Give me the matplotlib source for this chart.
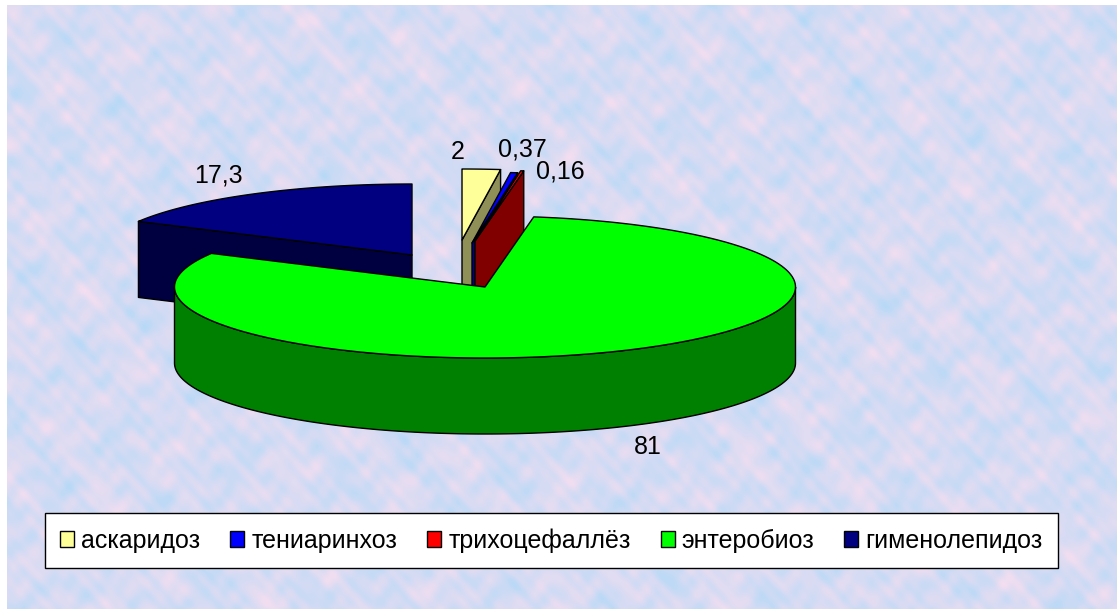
import matplotlib
matplotlib.use('Agg')
import matplotlib.pyplot as plt
import numpy as np
from matplotlib.patches import Patch

plt.rcParams['font.family'] = ['Liberation Sans', 'DejaVu Sans']

names = ['аскаридоз', 'тениаринхоз', 'трихоцефаллёз', 'энтеробиоз', 'гименолепидоз']
values = [2, 0.37, 0.16, 81, 17.3]
value_labels = ['2', '0,37', '0,16', '81', '17,3']
top_colors = ['#FFFF99', '#0000FF', '#FF0000', '#00FF00', '#000080']
side_colors = ['#8F8F58', '#000080', '#800000', '#008000', '#000040']

W, H = 1117, 612
CX, CY = 485, 287
RX, RY = 310.5, 71
DEPTH = 76
# how far each slice is pulled out of the pie, in pixels
offsets = [(-23, -47), (-13, -44), (-10, -46), (0, 0), (-73, -32)]
label_pos = [(458, 152), (522, 150), (560, 171), (648, 447), (218, 175)]


def arc(x0, y0, a, b, n=200):
    t = np.radians(np.linspace(a, b, n))
    return x0 + RX * np.cos(t), y0 - RY * np.sin(t)


def draw_slice(ax, x0, y0, a, b, top, side):
    # a > b, going clockwise
    xs, ys = arc(x0, y0, a, b)
    kw = dict(edgecolor='black', linewidth=1.0, joinstyle='round')
    # cut faces, only the ones turned to the viewer
    faces = []
    if np.cos(np.radians(a)) < -1e-6:
        faces.append(a)
    if np.cos(np.radians(b)) > 1e-6:
        faces.append(b)
    for ang in faces:
        ex, ey = arc(x0, y0, ang, ang, 1)
        ax.fill([x0, ex[0], ex[0], x0], [y0, ey[0], ey[0] + DEPTH, y0 + DEPTH], facecolor=side, **kw)
    # outer rim, front half only
    lo, hi = min(a, b), max(a, b)
    for k in (-1, 0):
        s, e = max(lo, 180 + 360 * k), min(hi, 360 + 360 * k)
        if s < e:
            rx, ry = arc(x0, y0, s, e)
            ax.fill(np.r_[rx, rx[::-1]], np.r_[ry, ry[::-1] + DEPTH], facecolor=side, **kw)
    ax.fill(np.r_[x0, xs], np.r_[y0, ys], facecolor=top, **kw)


fig = plt.figure(figsize=(W / 100, H / 100), dpi=100)
ax = fig.add_axes([0, 0, 1, 1])
ax.axis('off')

# pale mottled wallpaper behind the chart
yy, xx = np.mgrid[0:604, 0:1110]
tex = np.zeros(xx.shape)
for fx, fy, ph, amp in [(0.043, 0.057, 0.4, 0.6), (-0.067, 0.039, 1.9, 0.6), (0.083, -0.071, 3.1, 0.6),
                        (0.121, 0.097, 0.8, 0.5), (-0.157, 0.131, 2.3, 0.5), (0.233, 0.191, 5.1, 0.4),
                        (-0.317, 0.283, 1.2, 0.4), (0.419, -0.367, 4.2, 0.3), (0.197, -0.277, 2.7, 0.4),
                        (-0.109, -0.211, 0.3, 0.5), (0.353, 0.127, 3.7, 0.3), (0.029, -0.181, 1.4, 0.5)]:
    tex += amp * np.sin(fx * xx + fy * yy + ph)
tex = (tex - tex.min()) / (tex.max() - tex.min())
low = np.array([0.70, 0.85, 0.97])
high = np.array([0.97, 0.87, 0.94])
bg = low + (high - low) * tex[..., None]
ax.imshow(bg, extent=(7, 1117, 609, 5), aspect='auto', zorder=0)
ax.set_xlim(0, W)
ax.set_ylim(H, 0)

sweeps = 360 * np.array(values) / sum(values)
ends = 90 - np.cumsum(sweeps)
starts = ends + sweeps

# back slices first, the big one goes over them
for i in [4, 0, 1, 2, 3]:
    x0, y0 = CX + offsets[i][0], CY + offsets[i][1]
    draw_slice(ax, x0, y0, starts[i], ends[i], top_colors[i], side_colors[i])

for i in range(len(values)):
    ax.text(label_pos[i][0], label_pos[i][1], value_labels[i], fontsize=18,
            ha='center', va='center', color='black')

handles = [Patch(facecolor=c, edgecolor='black', linewidth=1) for c in top_colors]
ax.legend(handles, names, ncol=5, loc='center', bbox_to_anchor=(551.5, 540.5),
          bbox_transform=ax.transData, fontsize=18, fancybox=False, framealpha=1,
          edgecolor='black', handlelength=0.56, handleheight=0.56, handletextpad=0.28,
          columnspacing=1.2, borderpad=0.6, borderaxespad=0)

fig.savefig('out.png', dpi=100, facecolor='white')
